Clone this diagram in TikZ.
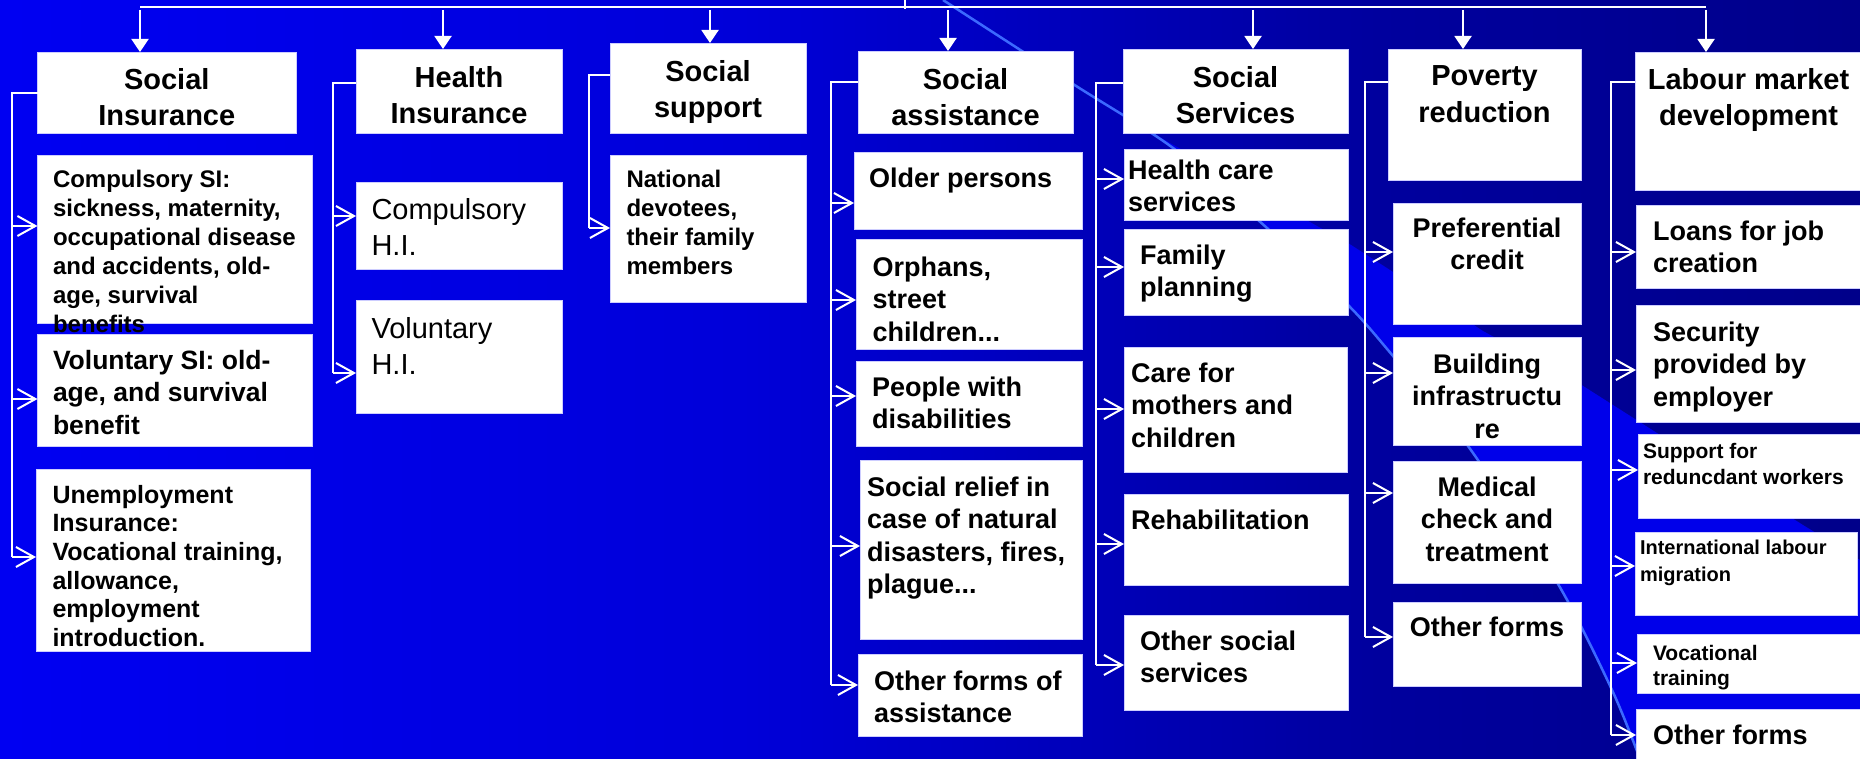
\documentclass[tikz,border=0pt]{standalone}
\usepackage{fontspec}
\setmainfont{Liberation Sans}
\usetikzlibrary{arrows.meta}

\definecolor{swoosh}{RGB}{0,0,234}
\definecolor{streak}{RGB}{60,105,255}
\definecolor{cellrim}{RGB}{205,205,255}

\pgfdeclarehorizontalshading{deepblue}{100bp}{rgb(0bp)=(0,0,0.95); rgb(25bp)=(0,0,0.95);
  rgb(45bp)=(0,0,0.85); rgb(62bp)=(0,0,0.62); rgb(75bp)=(0,0,0.54); rgb(100bp)=(0,0,0.54)}

\def\boxalign{\raggedright\leftskip=\padx\relax}
\tikzset{
  padx/.store in=\padx, pady/.store in=\pady, padx=16pt, pady=16pt,
  centred/.code={\def\boxalign{\centering}},
  itembox/.style={fill=white, draw=cellrim, line width=0.8pt, inner sep=0pt, outer sep=0pt,
    anchor=north west, font=\bfseries\fontsize{27}{32.3}\selectfont},
  headbox/.style={itembox, centred, pady=17pt, font=\bfseries\fontsize{29}{36.6}\selectfont},
  link/.style={draw=white, line width=2pt},
  feed/.style={link, -{Triangle[length=13pt,width=17pt]}},
  branch/.style={link, -{Straight Barb[length=18pt,width=20pt]}}
}

% [options]{name}{x1}{y1}{x2}{y2}{text}
\newcommand\chartcell[7][]{%
  \node[itembox,#1] (#2) at (#3,#4)
    {\parbox[t][\dimexpr#6pt-#4pt\relax][t]{\dimexpr#5pt-#3pt\relax}{\boxalign\vspace*{\pady}#7}};}

\begin{document}
\begin{tikzpicture}[x=1pt, y=-1pt]
  \useasboundingbox (0,0) rectangle (1860,759);
  \clip (0,0) rectangle (1860,759);

  % background
  \shade[shading=deepblue] (0,0) rectangle (1860,759);
  \fill[swoosh] (1140,126) -- (1317,226) -- (1348,243) -- (1390,270) -- (1483,331) -- (1580,384)
    -- (1657,433) -- (1803,525) -- (1860,560) -- (1860,759) -- (1640,759) -- (1612,690)
    -- (1558,584) -- (1468,446) -- (1393,356) -- (1349,306) -- (1267,228) -- (1173,148) -- cycle;
  \draw[streak, line width=2.5pt] plot[smooth] coordinates {(943,0) (1073,84) (1173,148)
    (1267,228) (1349,306) (1393,356) (1468,446) (1558,584) (1612,690) (1640,759)};

  % social insurance
  \chartcell[headbox, pady=16pt]{si}{37.5}{52}{296}{133}{Social\\Insurance}
  \chartcell[font=\bfseries\fontsize{24}{29}\selectfont, padx=15.5pt, pady=15pt]{si1}{37.5}{155}{312}{323}
    {Compulsory SI:\\sickness, maternity,\\occupational disease\\and accidents, old-\\age, survival\\benefits}
  \chartcell[font=\bfseries\fontsize{26.5}{32.5}\selectfont, padx=15.5pt]{si2}{37.5}{334}{312}{446}
    {Voluntary SI: old-\\age, and survival\\benefit}
  \chartcell[font=\bfseries\fontsize{25}{28.7}\selectfont, padx=16.5pt]{si3}{36}{469}{310}{651}
    {Unemployment\\Insurance:\\Vocational training,\\allowance,\\employment\\introduction.}

  % health insurance
  \chartcell[headbox]{hi}{356}{49}{562}{133}{Health\\Insurance}
  \chartcell[font=\fontsize{29}{36.7}\selectfont, padx=15.5pt]{hi1}{356}{182}{562}{269}{Compulsory\\H.I.}
  \chartcell[font=\fontsize{29}{36.7}\selectfont, padx=15.5pt, pady=17pt]{hi2}{356}{300}{562}{413}{Voluntary\\H.I.}

  % social support
  \chartcell[headbox]{ss}{610}{43}{806}{133}{Social\\support}
  \chartcell[font=\bfseries\fontsize{24}{29}\selectfont, padx=16.5pt, pady=15pt]{ss1}{610}{155}{806}{302}
    {National\\devotees,\\their family\\members}

  % social assistance
  \chartcell[headbox]{sa}{858}{51}{1073}{133}{Social\\assistance}
  \chartcell[padx=15pt]{sa1}{854}{152}{1082}{229}{Older persons}
  \chartcell[padx=16.5pt, pady=18pt]{sa2}{856}{239}{1082}{349}{Orphans,\\street\\children...}
  \chartcell{sa3}{856}{361}{1082}{446}{People with\\disabilities}
  \chartcell[padx=7pt, pady=17pt]{sa4}{860}{460}{1082}{639}{Social relief in\\case of natural\\disasters, fires,\\plague...}
  \chartcell[pady=17pt]{sa5}{858}{654}{1082}{736}{Other forms of\\assistance}

  % social services
  \chartcell[headbox]{sv}{1123}{49}{1348}{133}{Social\\Services}
  \chartcell[padx=4pt, pady=11pt]{sv1}{1124}{149}{1348}{220}{Health care\\services}
  \chartcell{sv2}{1124}{229}{1348}{315}{Family\\planning}
  \chartcell[padx=7pt]{sv3}{1124}{347}{1347}{472}{Care for\\mothers and\\children}
  \chartcell[padx=7pt]{sv4}{1124}{494}{1348}{585}{Rehabilitation}
  \chartcell[pady=15.5pt]{sv5}{1124}{615}{1348}{710}{Other social\\services}

  % poverty reduction
  \chartcell[headbox]{pr}{1388}{49}{1581}{180}{Poverty\\reduction}
  \chartcell[centred, pady=15pt]{pr1}{1393}{203}{1581}{324}{Preferential\\credit}
  \chartcell[centred, pady=17pt]{pr2}{1393}{337}{1581}{445}{Building\\infrastructu\\re}
  \chartcell[centred]{pr3}{1393}{461}{1581}{583}{Medical\\check and\\treatment}
  \chartcell[centred, pady=15pt]{pr4}{1393}{602}{1581}{686}{Other forms}

  % labour market
  \chartcell[headbox, pady=16pt]{lm}{1635}{52}{1862}{190}{Labour market\\development}
  \chartcell[padx=17pt]{lm1}{1636}{205}{1866}{288}{Loans for job\\creation}
  \chartcell[padx=17pt, pady=17pt]{lm2}{1636}{305}{1866}{422}{Security\\provided by\\employer}
  \chartcell[font=\bfseries\fontsize{21}{26.7}\selectfont, padx=5pt, pady=9pt]{lm3}{1638}{434}{1866}{518}
    {Support for\\reduncdant workers}
  \chartcell[font=\bfseries\fontsize{20}{26.7}\selectfont, padx=5pt, pady=8pt]{lm4}{1635}{532}{1857}{615}
    {International labour\\migration}
  \chartcell[font=\bfseries\fontsize{21}{25.7}\selectfont, padx=16pt, pady=11pt]{lm5}{1637}{634}{1866}{693}
    {Vocational\\training}
  \chartcell[padx=17pt]{lm6}{1636}{709}{1866}{775}{Other forms}

  % top level
  \coordinate (root) at (905,0);
  \coordinate (barL) at (140,7);
  \coordinate (barR) at (1706,7);
  \draw[link] (root) -- ++(0,9);
  \draw[link] (barL) -- (barR);
  \foreach \h/\x in {si/140,hi/443,ss/710,sa/948,sv/1253,pr/1463,lm/1706}
    \draw[feed] (\x,10) -- (\x,10 |- \h.north);

  % second level
  \draw[link] (si.west |- 0,93) -| (12,557);
  \foreach \k/\y in {si1/226,si2/399,si3/557}
    \draw[branch] (12,\y) -- (\k.west |- 0,\y);

  \draw[link] (hi.west |- 0,83) -| (333,373);
  \foreach \k/\y in {hi1/216,hi2/373}
    \draw[branch] (333,\y) -- (\k.west |- 0,\y);

  \draw[link] (ss.west |- 0,75) -| (589,228);
  \draw[branch] (589,228) -- (ss1.west |- 0,228);

  \draw[link] (sa.west |- 0,82) -| (831,685);
  \foreach \k/\y in {sa1/203,sa2/300,sa3/396,sa4/546,sa5/685}
    \draw[branch] (831,\y) -- (\k.west |- 0,\y);

  \draw[link] (sv.west |- 0,83) -| (1096,665);
  \foreach \k/\y in {sv1/179,sv2/267,sv3/409,sv4/544,sv5/665}
    \draw[branch] (1096,\y) -- (\k.west |- 0,\y);

  \draw[link] (pr.west |- 0,82) -| (1365,637);
  \foreach \k/\y in {pr1/252,pr2/373,pr3/493,pr4/637}
    \draw[branch] (1365,\y) -- (\k.west |- 0,\y);

  \draw[link] (lm.west |- 0,82) -| (1611,735);
  \foreach \k/\y in {lm1/252,lm2/370,lm3/470,lm4/566,lm5/663,lm6/735}
    \draw[branch] (1611,\y) -- (\k.west |- 0,\y);
\end{tikzpicture}
\end{document}
